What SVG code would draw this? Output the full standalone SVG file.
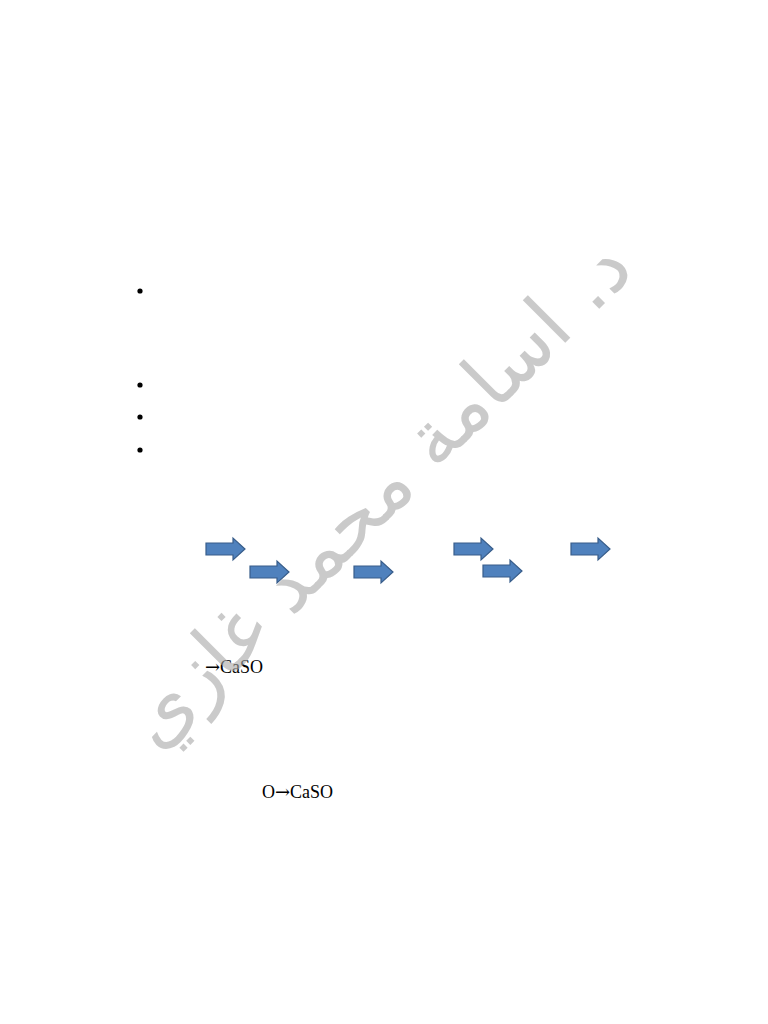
<svg xmlns="http://www.w3.org/2000/svg" width="768" height="1024" viewBox="0 0 768 1024">
<defs>
<style>
.bul{fill:#000}
.arr{fill:#4f81bd;stroke:#385d8a;stroke-width:1.2}
.txt{font-family:"Liberation Serif","Times New Roman",serif;font-size:18px;fill:#000}
.sym{font-family:"DejaVu Serif","Liberation Serif",serif;font-size:18px}
.wm{font-family:"DejaVu Sans","Noto Sans",sans-serif;font-size:79px;fill:#a8a8a8;opacity:0.6}
</style>
<path id="ar" d="M0,5 H27 V0 L39,11 L27,22 V17 H0 Z"/>
</defs>
<rect width="768" height="1024" fill="#fff"/>
<g id="bullets">
<circle class="bul" cx="140" cy="291" r="2.6"/>
<circle class="bul" cx="140" cy="385" r="2.6"/>
<circle class="bul" cx="140" cy="417" r="2.6"/>
<circle class="bul" cx="140" cy="450" r="2.6"/>
</g>
<g id="connectors">
<use href="#ar" class="arr" x="206" y="538"/>
<use href="#ar" class="arr" x="250" y="561"/>
<use href="#ar" class="arr" x="354" y="561"/>
<use href="#ar" class="arr" x="454" y="538"/>
<use href="#ar" class="arr" x="483" y="560"/>
<use href="#ar" class="arr" x="571" y="538"/>
</g>
<g id="eq1"><text class="txt" x="205" y="673"><tspan class="sym">→</tspan>CaSO</text></g>
<g id="eq2"><text class="txt" x="262" y="798">O<tspan class="sym">→</tspan>CaSO</text></g>
<g id="watermark">
<text class="wm" x="0" y="0" text-anchor="middle" transform="translate(396,512) rotate(-45)">د. اسامة محمد غازي</text>
</g>
</svg>
